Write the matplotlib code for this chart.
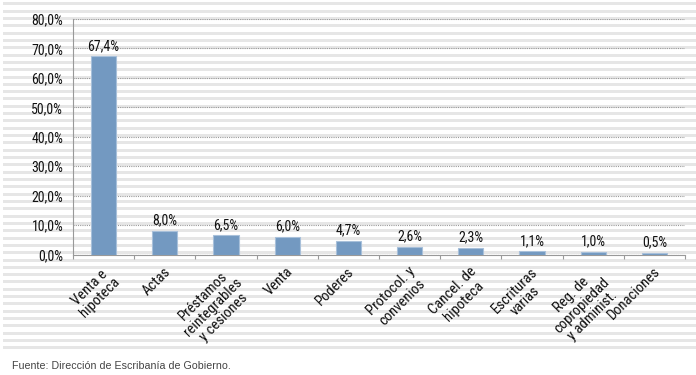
import matplotlib
matplotlib.use("Agg")
import matplotlib.pyplot as plt
from matplotlib.ticker import FuncFormatter

categories = ["Venta e\nhipoteca", "Actas", "Préstamos\nreintegrables\ny cesiones", "Venta",
              "Poderes", "Protocol. y\nconvenios", "Cancel. de\nhipoteca", "Escrituras\nvarias",
              "Reg. de\ncopropiedad\ny administ.", "Donaciones"]
values = [67.4, 8.0, 6.5, 6.0, 4.7, 2.6, 2.3, 1.1, 1.0, 0.5]
yticks = [0, 10, 20, 30, 40, 50, 60, 70, 80]
source = "Fuente: Dirección de Escribanía de Gobierno."

FONT = ["Roboto Condensed", "Liberation Sans", "DejaVu Sans"]
plt.rcParams["font.family"] = FONT
FS = 10
FS_CAT = 10.5

W, H = 696, 375
fig = plt.figure(figsize=(W / 100, H / 100), dpi=100)

# background stripes in a full-figure axes (pixel coordinates, y downward)
bg = fig.add_axes([0, 0, 1, 1], zorder=-1)
bg.set_xlim(0, W)
bg.set_ylim(H, 0)
bg.axis("off")
y0, period, sh = 2.3, 7.32, 3.0
for k in range(48):
    t = y0 + k * period
    bg.axhspan(t, t + sh, xmin=3 / W, xmax=1, facecolor="#e6e6e6", edgecolor="none")

left, right, top_px, bot_px = 73, 685, 19, 254.5
ax = fig.add_axes([left / W, 1 - bot_px / H, (right - left) / W, (bot_px - top_px) / H], zorder=1)
ax.patch.set_alpha(0)

x = list(range(len(values)))
ax.bar(x, values, width=0.41, color="#7399c1", edgecolor="#a8c0da", linewidth=0.8, zorder=3)
for xi, v in zip(x, values):
    ax.text(xi, v + 1.1, f"{v:.1f}%".replace(".", ","), ha="center", va="bottom",
            fontsize=FS, color="#111111", zorder=4)

ax.set_xlim(-0.5, len(values) - 0.5)
ax.set_ylim(0, 80)
ax.set_yticks(yticks)
ax.yaxis.set_major_formatter(FuncFormatter(lambda v, p: f"{v:.1f}%".replace(".", ",")))
ax.tick_params(axis="y", length=0, labelsize=FS, pad=7, labelcolor="#111111")
ax.grid(axis="y", color="#999999", linestyle=(0, (1, 1)), linewidth=0.8, zorder=1)

ax.set_xticks([i - 0.5 for i in range(len(values) + 1)], minor=True)
ax.set_xticks(x)
ax.set_xticklabels([])
ax.tick_params(axis="x", which="major", length=0)
ax.tick_params(axis="x", which="minor", length=3, color="#999999", width=0.8)

for s in ["top", "right"]:
    ax.spines[s].set_visible(False)
for s in ["left", "bottom"]:
    ax.spines[s].set_color("#999999")
    ax.spines[s].set_linestyle((0, (1, 1)))
    ax.spines[s].set_linewidth(0.8)

for xi, lab in zip(x, categories):
    ax.text(xi - 0.02, -3.4, lab, rotation=45, ha="right", va="top", rotation_mode="anchor",
            multialignment="center", fontsize=FS_CAT, color="#111111",
            transform=ax.transData, clip_on=False, linespacing=1.08)

fig.text(12 / W, 1 - 366 / H, source, fontsize=7.7, color="#444444", ha="left", va="center",
         family=["Liberation Sans", "DejaVu Sans"])

fig.savefig("out.png", dpi=100)
